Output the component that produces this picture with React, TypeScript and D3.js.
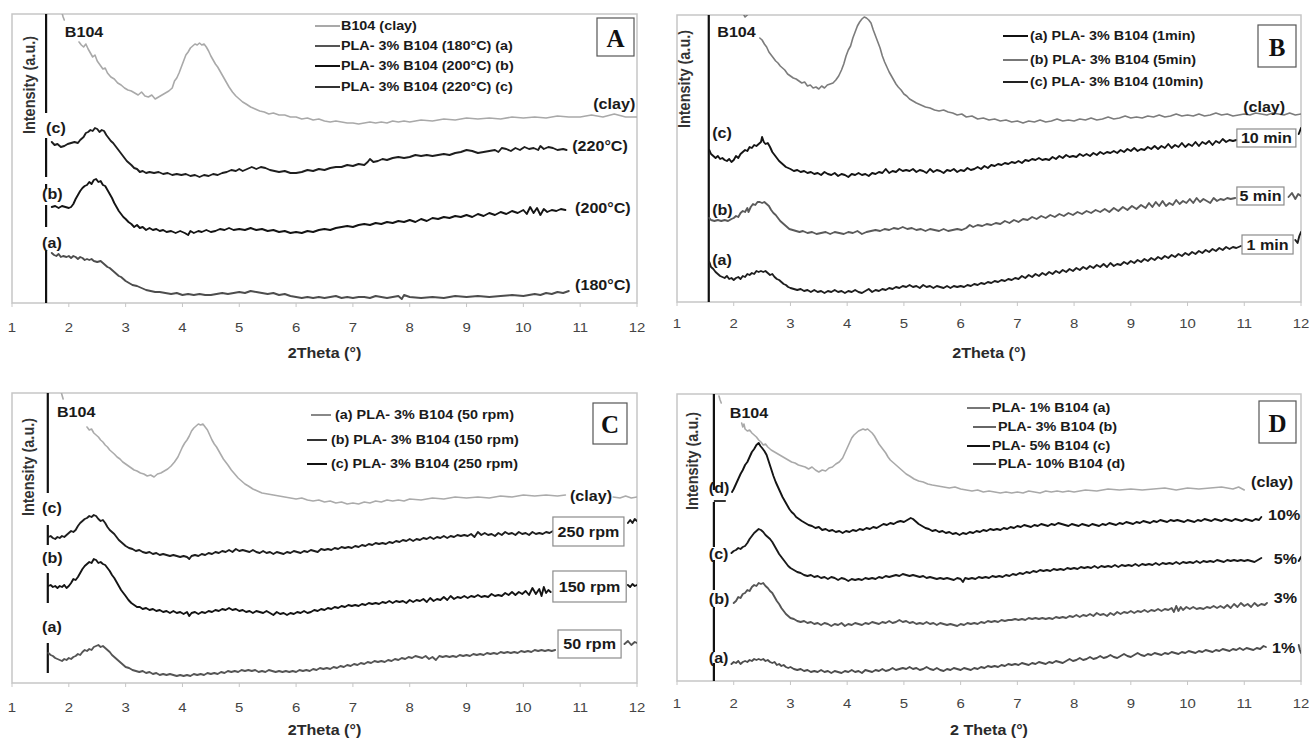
import React from "react";
import * as d3 from "d3";

type P = [number, number] | null;

const X_TICKS = [1, 2, 3, 4, 5, 6, 7, 8, 9, 10, 11, 12];
const FONT = "'Liberation Sans', Arial, Helvetica, sans-serif";
const SERIF = "'Liberation Serif', 'Times New Roman', serif";
const SX = 1.15; // horizontal stretch of the lettering
const LW = 1.9; // stroke width of the composite patterns
const LW_CLAY = 1.6; // stroke width of the pure clay patterns

// ---------- Panel A: processing temperature ----------
const aClay: P[] = [
  [1.87, 292], [1.9, 286], [1.92, 283], null,
  [2.18, 261], [2.22, 258], [2.26, 256], [2.3, 259], [2.34, 254], [2.38, 250], [2.42, 246], [2.46, 248], [2.5, 242], [2.55, 238], [2.6, 234], [2.64, 235], [2.68, 230], [2.74, 226], [2.8, 224], [2.86, 220], [2.92, 218], [2.98, 215], [3.04, 213], [3.1, 212], [3.16, 210], [3.22, 208], [3.28, 211], [3.34, 207], [3.4, 206], [3.46, 208], [3.52, 204], [3.58, 206], [3.64, 208], [3.7, 210], [3.76, 212], [3.82, 215], [3.86, 222], [3.9, 225], [3.94, 230], [3.98, 236], [4.02, 242], [4.06, 248], [4.1, 251], [4.14, 255], [4.18, 257], [4.22, 259], [4.26, 258], [4.3, 260], [4.34, 258], [4.38, 259], [4.42, 256], [4.46, 252], [4.5, 247], [4.54, 243], [4.58, 239], [4.62, 236], [4.66, 232], [4.7, 228], [4.74, 224], [4.78, 220], [4.82, 216], [4.88, 211], [4.94, 207], [5.0, 204], [5.06, 201], [5.12, 199], [5.2, 196], [5.28, 194], [5.36, 192], [5.44, 191], [5.52, 189], [5.6, 190], [5.7, 188], [5.8, 188], [5.9, 186], [6.0, 186], [6.1, 184], [6.2, 185], [6.3, 183], [6.4, 184], [6.5, 182], [6.6, 181], [6.7, 182], [6.8, 181], [6.9, 180], [7.0, 180], [7.1, 179], [7.2, 180], [7.3, 181], [7.4, 180], [7.5, 181], [7.6, 180], [7.7, 182], [7.8, 181], [7.9, 182], [8.0, 181], [8.2, 183], [8.4, 182], [8.6, 184], [8.8, 183], [9.0, 185], [9.2, 184], [9.4, 185], [9.6, 184], [9.8, 186], [10.0, 185], [10.2, 186], [10.4, 185], [10.6, 187], [10.8, 186], [11.0, 186], [11.2, 188], [11.4, 186], [11.6, 189], [11.8, 186], [12.0, 186],
];
const a220: P[] = [
  [1.7, 161], [1.75, 158], [1.8, 159], [1.86, 156], [1.92, 157], [1.98, 159], [2.04, 160], [2.1, 161], [2.16, 160], [2.2, 163], [2.26, 166], [2.3, 170], [2.34, 171], [2.38, 173], [2.42, 172], [2.46, 175], [2.5, 174], [2.54, 171], [2.58, 173], [2.62, 172], [2.66, 168], [2.7, 165], [2.74, 162], [2.78, 160], [2.82, 157], [2.86, 154], [2.9, 151], [2.94, 148], [2.98, 145], [3.02, 142], [3.06, 140], [3.1, 138], [3.15, 135], [3.2, 134], [3.25, 131], [3.3, 132], [3.36, 130], [3.42, 131], [3.5, 130], [3.58, 131], [3.66, 129], [3.74, 130], [3.82, 128], [3.9, 129], [3.98, 128], [4.06, 129], [4.14, 127], [4.22, 128], [4.3, 126], [4.38, 128], [4.46, 127], [4.54, 129], [4.62, 128], [4.7, 130], [4.78, 131], [4.86, 133], [4.94, 132], [5.0, 134], [5.06, 132], [5.14, 134], [5.22, 136], [5.3, 134], [5.38, 136], [5.46, 135], [5.54, 133], [5.62, 132], [5.7, 131], [5.8, 132], [5.9, 130], [6.0, 130], [6.1, 131], [6.2, 133], [6.3, 132], [6.4, 134], [6.5, 133], [6.6, 135], [6.7, 136], [6.8, 136], [6.9, 138], [7.0, 137], [7.1, 139], [7.2, 138], [7.26, 141], [7.3, 144], [7.36, 141], [7.44, 142], [7.52, 144], [7.6, 143], [7.7, 145], [7.8, 146], [7.9, 145], [8.0, 146], [8.1, 148], [8.2, 147], [8.3, 148], [8.4, 147], [8.5, 148], [8.6, 149], [8.7, 148], [8.8, 150], [8.9, 151], [9.0, 153], [9.1, 152], [9.2, 150], [9.3, 151], [9.4, 152], [9.5, 153], [9.56, 151], [9.62, 155], [9.7, 154], [9.78, 152], [9.86, 155], [9.94, 153], [10.02, 156], [10.1, 154], [10.18, 155], [10.26, 153], [10.3, 157], [10.36, 154], [10.44, 156], [10.52, 155], [10.6, 153], [10.7, 154], [10.76, 153],
];
const a200: P[] = [
  [1.7, 96], [1.76, 97], [1.82, 95], [1.88, 97], [1.94, 96], [2.0, 95], [2.04, 96], [2.08, 99], [2.12, 104], [2.16, 108], [2.2, 112], [2.24, 115], [2.28, 117], [2.32, 118], [2.36, 121], [2.4, 119], [2.44, 123], [2.48, 124], [2.52, 121], [2.56, 122], [2.6, 118], [2.64, 117], [2.68, 113], [2.72, 109], [2.76, 105], [2.8, 100], [2.84, 96], [2.88, 92], [2.92, 89], [2.96, 86], [3.0, 84], [3.05, 81], [3.1, 79], [3.15, 76], [3.2, 78], [3.25, 75], [3.3, 76], [3.36, 73], [3.42, 75], [3.48, 73], [3.54, 74], [3.6, 72], [3.66, 73], [3.72, 71], [3.8, 72], [3.88, 70], [3.96, 72], [4.04, 70], [4.1, 68], [4.14, 72], [4.2, 70], [4.28, 72], [4.34, 71], [4.42, 73], [4.5, 71], [4.58, 72], [4.66, 74], [4.74, 73], [4.82, 75], [4.9, 73], [5.0, 74], [5.1, 73], [5.2, 75], [5.3, 73], [5.4, 74], [5.5, 72], [5.6, 73], [5.7, 71], [5.8, 72], [5.9, 70], [6.0, 71], [6.1, 70], [6.2, 72], [6.3, 71], [6.4, 73], [6.5, 74], [6.6, 73], [6.7, 75], [6.8, 76], [6.9, 77], [7.0, 76], [7.1, 78], [7.2, 79], [7.3, 78], [7.4, 80], [7.5, 79], [7.6, 81], [7.7, 80], [7.8, 82], [7.9, 81], [8.0, 83], [8.1, 81], [8.2, 84], [8.3, 82], [8.4, 85], [8.5, 84], [8.6, 86], [8.7, 85], [8.8, 87], [8.9, 86], [9.0, 88], [9.1, 86], [9.2, 89], [9.3, 87], [9.4, 90], [9.5, 88], [9.6, 91], [9.7, 89], [9.8, 92], [9.9, 90], [10.0, 93], [10.06, 89], [10.12, 96], [10.18, 90], [10.24, 95], [10.3, 88], [10.36, 94], [10.42, 91], [10.5, 93], [10.58, 92], [10.66, 94], [10.74, 93],
];
const a180: P[] = [
  [1.7, 50], [1.74, 48], [1.78, 47], [1.82, 49], [1.86, 46], [1.9, 47], [1.96, 46], [2.0, 47], [2.04, 45], [2.08, 47], [2.12, 46], [2.16, 44], [2.2, 46], [2.24, 45], [2.28, 43], [2.32, 44], [2.36, 43], [2.4, 44], [2.44, 42], [2.5, 41], [2.56, 42], [2.6, 40], [2.64, 38], [2.68, 36], [2.72, 35], [2.76, 33], [2.8, 31], [2.84, 29], [2.88, 27], [2.92, 26], [2.96, 24], [3.0, 22], [3.06, 20], [3.12, 18], [3.2, 17], [3.28, 15], [3.36, 13], [3.44, 12], [3.52, 11], [3.6, 11], [3.7, 10], [3.8, 9], [3.9, 10], [4.0, 8], [4.1, 9], [4.2, 8], [4.3, 9], [4.4, 8], [4.5, 8], [4.6, 9], [4.7, 10], [4.8, 9], [4.9, 10], [5.0, 11], [5.1, 10], [5.2, 12], [5.3, 11], [5.4, 10], [5.5, 9], [5.6, 10], [5.7, 8], [5.8, 9], [5.9, 7], [6.0, 6], [6.1, 5], [6.2, 6], [6.3, 5], [6.4, 6], [6.5, 5], [6.6, 6], [6.7, 7], [6.8, 5], [6.9, 6], [7.0, 5], [7.1, 6], [7.2, 6], [7.3, 5], [7.4, 7], [7.5, 6], [7.6, 5], [7.7, 6], [7.8, 7], [7.86, 4], [7.9, 8], [8.0, 6], [8.2, 5], [8.4, 6], [8.6, 5], [8.8, 7], [9.0, 6], [9.2, 7], [9.4, 6], [9.6, 7], [9.8, 8], [10.0, 7], [10.2, 9], [10.3, 8], [10.4, 10], [10.5, 9], [10.6, 11], [10.7, 10], [10.8, 12],
];

// ---------- Panel B: mixing time ----------
const bClay: P[] = [
  [2.16, 289], [2.2, 285], [2.24, 287], null,
  [2.46, 264], [2.5, 262], [2.54, 258], [2.58, 255], [2.62, 250], [2.66, 247], [2.7, 244], [2.74, 241], [2.78, 239], [2.82, 236], [2.86, 234], [2.9, 232], [2.95, 228], [3.0, 226], [3.05, 224], [3.1, 223], [3.15, 221], [3.2, 219], [3.25, 220], [3.3, 216], [3.35, 217], [3.4, 214], [3.45, 215], [3.5, 213], [3.55, 216], [3.6, 214], [3.65, 217], [3.7, 218], [3.75, 219], [3.8, 222], [3.85, 226], [3.9, 232], [3.94, 238], [3.98, 246], [4.02, 252], [4.06, 256], [4.1, 264], [4.14, 270], [4.18, 276], [4.22, 280], [4.26, 283], [4.3, 285], [4.34, 284], [4.38, 282], [4.42, 279], [4.46, 272], [4.5, 266], [4.54, 260], [4.58, 254], [4.62, 246], [4.66, 240], [4.7, 235], [4.74, 230], [4.78, 226], [4.82, 222], [4.86, 218], [4.9, 215], [4.95, 212], [5.0, 208], [5.05, 206], [5.1, 203], [5.16, 201], [5.22, 199], [5.3, 197], [5.38, 195], [5.46, 194], [5.54, 192], [5.62, 191], [5.7, 192], [5.78, 190], [5.86, 189], [5.94, 187], [6.02, 188], [6.1, 185], [6.2, 186], [6.3, 183], [6.4, 184], [6.5, 182], [6.6, 183], [6.7, 181], [6.8, 182], [6.9, 180], [7.0, 181], [7.1, 179], [7.2, 181], [7.3, 180], [7.4, 182], [7.5, 180], [7.6, 181], [7.7, 183], [7.8, 181], [7.9, 182], [8.0, 181], [8.1, 183], [8.2, 182], [8.3, 184], [8.4, 182], [8.5, 183], [8.6, 185], [8.7, 183], [8.8, 184], [8.9, 186], [9.0, 184], [9.1, 185], [9.2, 184], [9.3, 186], [9.4, 185], [9.5, 187], [9.6, 185], [9.7, 186], [9.8, 188], [9.9, 186], [10.0, 187], [10.1, 186], [10.2, 188], [10.3, 186], [10.4, 187], [10.5, 189], [10.6, 187], [10.7, 188], [10.8, 186], [10.9, 187], [11.0, 188], [11.1, 187], [11.2, 189], [11.3, 188], [11.4, 187], [11.5, 189], [11.6, 188], [11.7, 187], [11.8, 189], [11.9, 187], [12.0, 188],
];
const b10: P[] = [
  [1.57, 152], [1.6, 148], [1.64, 146], [1.68, 144], [1.72, 146], [1.76, 143], [1.8, 144], [1.84, 142], [1.88, 141], [1.92, 143], [1.96, 140], [2.0, 142], [2.04, 146], [2.08, 144], [2.12, 148], [2.16, 150], [2.2, 152], [2.24, 151], [2.28, 155], [2.32, 154], [2.36, 157], [2.4, 156], [2.44, 158], [2.48, 160], [2.5, 165], [2.53, 160], [2.56, 158], [2.6, 159], [2.64, 155], [2.68, 150], [2.72, 147], [2.76, 144], [2.8, 141], [2.84, 139], [2.88, 137], [2.92, 135], [2.96, 134], [3.0, 133], [3.06, 131], [3.12, 132], [3.18, 130], [3.24, 131], [3.3, 129], [3.36, 130], [3.42, 128], [3.48, 129], [3.54, 127], [3.6, 130], [3.66, 128], [3.72, 127], [3.78, 129], [3.84, 126], [3.9, 128], [3.96, 127], [4.02, 125], [4.08, 128], [4.14, 127], [4.2, 129], [4.26, 127], [4.32, 128], [4.38, 126], [4.44, 129], [4.5, 128], [4.56, 130], [4.62, 129], [4.68, 133], [4.74, 129], [4.8, 131], [4.86, 130], [4.92, 133], [4.98, 131], [5.04, 132], [5.1, 131], [5.16, 133], [5.22, 130], [5.28, 132], [5.34, 131], [5.4, 129], [5.46, 133], [5.52, 130], [5.58, 132], [5.64, 131], [5.7, 129], [5.76, 132], [5.82, 131], [5.88, 133], [5.94, 130], [6.0, 132], [6.06, 131], [6.12, 134], [6.18, 132], [6.24, 133], [6.3, 135], [6.36, 133], [6.42, 136], [6.48, 134], [6.54, 137], [6.6, 136], [6.66, 138], [6.72, 137], [6.78, 139], [6.84, 138], [6.9, 140], [6.96, 139], [7.02, 141], [7.08, 139], [7.14, 142], [7.2, 141], [7.26, 143], [7.32, 142], [7.38, 144], [7.44, 142], [7.5, 143], [7.56, 142], [7.62, 145], [7.68, 143], [7.74, 146], [7.8, 144], [7.86, 147], [7.92, 145], [7.98, 146], [8.04, 145], [8.1, 148], [8.16, 146], [8.22, 148], [8.28, 146], [8.34, 149], [8.4, 147], [8.46, 150], [8.52, 148], [8.58, 150], [8.64, 149], [8.7, 151], [8.76, 149], [8.82, 152], [8.88, 150], [8.94, 153], [9.0, 151], [9.06, 154], [9.12, 151], [9.18, 153], [9.24, 152], [9.3, 155], [9.36, 153], [9.42, 156], [9.48, 153], [9.54, 156], [9.6, 154], [9.66, 158], [9.72, 154], [9.78, 157], [9.84, 155], [9.9, 159], [9.96, 155], [10.02, 158], [10.08, 156], [10.14, 160], [10.2, 156], [10.26, 160], [10.32, 158], [10.38, 161], [10.44, 157], [10.5, 161], [10.56, 159], [10.62, 163], [10.68, 160], [10.74, 162], [10.8, 161], [10.86, 162], null,
  [11.96, 168], [12.0, 174],
];
const b5: P[] = [
  [1.57, 84], [1.6, 82], [1.66, 81], [1.72, 82], [1.78, 81], [1.84, 82], [1.9, 81], [1.96, 83], [2.0, 84], [2.04, 86], [2.08, 85], [2.12, 89], [2.16, 91], [2.2, 90], [2.24, 94], [2.26, 90], [2.3, 95], [2.34, 98], [2.38, 97], [2.42, 100], [2.46, 100], [2.5, 99], [2.54, 100], [2.58, 98], [2.62, 96], [2.66, 92], [2.7, 89], [2.74, 87], [2.78, 84], [2.82, 81], [2.86, 79], [2.9, 77], [2.94, 75], [2.98, 73], [3.04, 72], [3.1, 71], [3.16, 70], [3.22, 71], [3.3, 69], [3.38, 70], [3.46, 68], [3.54, 69], [3.62, 70], [3.7, 68], [3.78, 70], [3.86, 69], [3.94, 68], [4.02, 70], [4.1, 69], [4.18, 71], [4.26, 68], [4.34, 70], [4.42, 71], [4.5, 72], [4.58, 71], [4.66, 73], [4.74, 72], [4.82, 74], [4.9, 73], [4.98, 75], [5.06, 73], [5.14, 74], [5.22, 72], [5.3, 73], [5.38, 71], [5.46, 73], [5.54, 72], [5.62, 71], [5.7, 73], [5.78, 71], [5.86, 72], [5.94, 73], [6.02, 72], [6.1, 74], [6.16, 77], [6.22, 75], [6.3, 77], [6.38, 76], [6.46, 78], [6.54, 77], [6.62, 79], [6.7, 78], [6.78, 81], [6.86, 79], [6.94, 82], [7.02, 80], [7.1, 83], [7.18, 82], [7.26, 85], [7.34, 83], [7.42, 86], [7.5, 84], [7.58, 87], [7.66, 85], [7.74, 88], [7.82, 86], [7.9, 89], [7.98, 87], [8.06, 90], [8.14, 88], [8.22, 91], [8.3, 89], [8.38, 92], [8.46, 90], [8.54, 93], [8.62, 90], [8.7, 94], [8.78, 91], [8.86, 95], [8.94, 92], [9.02, 96], [9.1, 93], [9.18, 97], [9.26, 94], [9.32, 99], [9.38, 95], [9.44, 100], [9.5, 96], [9.56, 101], [9.62, 96], [9.68, 99], [9.74, 97], [9.8, 102], [9.86, 98], [9.92, 101], [9.98, 99], [10.04, 103], [10.1, 99], [10.16, 104], [10.22, 100], [10.28, 103], [10.34, 101], [10.4, 99], [10.46, 104], [10.52, 101], [10.58, 103], [10.64, 102], [10.7, 104], [10.76, 103], [10.84, 104], null,
  [11.78, 105], [11.84, 109], [11.9, 103], [11.95, 108], [12.0, 106],
];
const b1: P[] = [
  [1.57, 40], [1.6, 35], [1.64, 33], [1.68, 30], [1.72, 28], [1.76, 26], [1.8, 25], [1.84, 24], [1.88, 26], [1.92, 23], [1.96, 24], [2.0, 22], [2.04, 24], [2.08, 25], [2.12, 23], [2.16, 26], [2.2, 25], [2.24, 28], [2.28, 27], [2.32, 29], [2.36, 28], [2.4, 31], [2.44, 30], [2.48, 31], [2.52, 30], [2.56, 31], [2.6, 29], [2.64, 27], [2.68, 28], [2.72, 25], [2.76, 23], [2.8, 22], [2.84, 20], [2.88, 18], [2.92, 17], [2.96, 15], [3.0, 14], [3.06, 13], [3.12, 12], [3.18, 13], [3.24, 11], [3.3, 12], [3.36, 10], [3.42, 12], [3.48, 10], [3.54, 11], [3.6, 9], [3.66, 11], [3.72, 10], [3.78, 12], [3.84, 10], [3.9, 11], [3.96, 9], [4.02, 11], [4.08, 10], [4.14, 12], [4.2, 10], [4.26, 9], [4.32, 11], [4.38, 13], [4.44, 10], [4.5, 12], [4.56, 11], [4.62, 13], [4.68, 12], [4.74, 14], [4.8, 13], [4.86, 15], [4.92, 14], [4.98, 16], [5.04, 15], [5.1, 17], [5.16, 15], [5.22, 16], [5.28, 14], [5.34, 17], [5.4, 15], [5.46, 16], [5.52, 14], [5.58, 16], [5.64, 15], [5.7, 14], [5.76, 16], [5.82, 14], [5.88, 16], [5.94, 15], [6.0, 16], [6.06, 15], [6.12, 17], [6.18, 16], [6.24, 18], [6.3, 17], [6.36, 19], [6.42, 18], [6.48, 20], [6.54, 19], [6.6, 21], [6.66, 20], [6.72, 22], [6.78, 21], [6.84, 23], [6.9, 22], [6.96, 24], [7.02, 23], [7.08, 26], [7.14, 24], [7.2, 27], [7.26, 25], [7.32, 28], [7.38, 26], [7.44, 29], [7.5, 27], [7.56, 30], [7.62, 28], [7.68, 31], [7.74, 29], [7.8, 32], [7.86, 30], [7.92, 33], [7.98, 31], [8.04, 34], [8.1, 32], [8.16, 35], [8.22, 33], [8.28, 36], [8.34, 34], [8.4, 37], [8.46, 35], [8.52, 38], [8.58, 35], [8.64, 39], [8.7, 36], [8.76, 38], [8.82, 37], [8.88, 40], [8.94, 38], [9.0, 41], [9.06, 39], [9.12, 42], [9.18, 40], [9.24, 43], [9.3, 41], [9.36, 44], [9.42, 42], [9.48, 45], [9.54, 43], [9.6, 46], [9.66, 44], [9.72, 47], [9.78, 45], [9.84, 48], [9.9, 46], [9.96, 49], [10.02, 47], [10.08, 50], [10.14, 48], [10.2, 51], [10.26, 49], [10.32, 52], [10.38, 50], [10.44, 53], [10.5, 51], [10.56, 54], [10.62, 52], [10.68, 55], [10.74, 53], [10.8, 55], [10.86, 54], [10.94, 56], null,
  [11.9, 62], [11.94, 59], [11.97, 66], [12.0, 70],
];

// ---------- Panel C: screw speed ----------
const cClay: P[] = [
  [1.86, 292], [1.88, 288], [1.9, 284], null,
  [2.32, 256], [2.36, 253], [2.4, 254], [2.44, 250], [2.48, 248], [2.52, 246], [2.56, 243], [2.6, 241], [2.64, 238], [2.68, 236], [2.72, 233], [2.76, 231], [2.8, 229], [2.85, 226], [2.9, 224], [2.95, 221], [3.0, 219], [3.05, 217], [3.1, 215], [3.15, 213], [3.2, 212], [3.26, 210], [3.32, 209], [3.38, 207], [3.44, 208], [3.5, 206], [3.56, 209], [3.62, 210], [3.68, 212], [3.74, 214], [3.8, 217], [3.86, 221], [3.92, 226], [3.96, 231], [4.0, 236], [4.04, 240], [4.08, 243], [4.12, 247], [4.16, 252], [4.2, 255], [4.24, 257], [4.28, 259], [4.32, 258], [4.36, 259], [4.4, 256], [4.44, 253], [4.48, 248], [4.52, 243], [4.56, 239], [4.6, 236], [4.64, 232], [4.68, 228], [4.72, 224], [4.76, 221], [4.8, 218], [4.86, 213], [4.92, 209], [4.98, 205], [5.04, 202], [5.1, 199], [5.16, 197], [5.24, 194], [5.32, 192], [5.4, 190], [5.5, 189], [5.6, 188], [5.7, 187], [5.8, 186], [5.9, 185], [6.0, 184], [6.1, 185], [6.2, 183], [6.3, 182], [6.4, 183], [6.5, 181], [6.6, 182], [6.7, 180], [6.8, 181], [6.9, 179], [7.0, 180], [7.1, 179], [7.2, 181], [7.3, 180], [7.4, 182], [7.5, 181], [7.6, 183], [7.7, 182], [7.8, 183], [7.9, 182], [8.0, 184], [8.2, 183], [8.4, 185], [8.6, 184], [8.8, 186], [9.0, 185], [9.2, 186], [9.4, 185], [9.6, 187], [9.8, 186], [10.0, 188], [10.2, 187], [10.4, 188], [10.6, 187], [10.74, 188], null,
  [11.58, 186], [11.7, 185], [11.8, 187], [11.9, 185], [12.0, 186],
];
const c250: P[] = [
  [1.64, 146], [1.68, 147], [1.72, 145], [1.76, 144], [1.8, 146], [1.84, 145], [1.88, 147], [1.92, 146], [1.96, 148], [2.0, 150], [2.04, 152], [2.08, 151], [2.12, 153], [2.16, 157], [2.2, 160], [2.24, 162], [2.28, 164], [2.32, 165], [2.36, 167], [2.4, 166], [2.44, 168], [2.48, 167], [2.52, 164], [2.56, 162], [2.6, 163], [2.64, 160], [2.68, 156], [2.72, 153], [2.76, 151], [2.8, 149], [2.84, 146], [2.88, 143], [2.92, 141], [2.96, 139], [3.0, 137], [3.06, 135], [3.12, 134], [3.18, 132], [3.24, 133], [3.3, 131], [3.36, 130], [3.42, 131], [3.48, 129], [3.54, 130], [3.6, 128], [3.66, 129], [3.72, 128], [3.78, 127], [3.84, 128], [3.9, 127], [3.96, 126], [4.02, 127], [4.08, 126], [4.12, 124], [4.16, 127], [4.22, 128], [4.28, 127], [4.34, 129], [4.4, 128], [4.46, 130], [4.52, 129], [4.58, 131], [4.64, 130], [4.7, 132], [4.76, 131], [4.82, 133], [4.88, 131], [4.94, 134], [5.0, 132], [5.06, 133], [5.12, 132], [5.18, 131], [5.24, 133], [5.3, 131], [5.36, 130], [5.42, 132], [5.48, 130], [5.54, 131], [5.6, 129], [5.66, 131], [5.72, 130], [5.78, 129], [5.84, 131], [5.9, 130], [5.96, 132], [6.02, 131], [6.08, 130], [6.14, 132], [6.2, 131], [6.26, 133], [6.32, 132], [6.38, 131], [6.44, 134], [6.5, 133], [6.56, 134], [6.62, 133], [6.68, 135], [6.74, 134], [6.8, 136], [6.86, 135], [6.92, 136], [6.98, 135], [7.04, 137], [7.1, 136], [7.16, 138], [7.22, 137], [7.28, 139], [7.34, 138], [7.4, 140], [7.46, 139], [7.52, 140], [7.58, 139], [7.64, 141], [7.7, 140], [7.76, 142], [7.82, 141], [7.88, 143], [7.94, 142], [8.0, 144], [8.06, 142], [8.12, 144], [8.18, 143], [8.24, 145], [8.3, 144], [8.36, 146], [8.42, 144], [8.48, 146], [8.54, 145], [8.6, 147], [8.66, 145], [8.72, 147], [8.78, 146], [8.84, 148], [8.9, 147], [8.96, 148], [9.02, 147], [9.08, 149], [9.14, 146], [9.2, 151], [9.26, 148], [9.32, 150], [9.38, 148], [9.44, 149], [9.5, 147], [9.56, 150], [9.62, 148], [9.68, 151], [9.74, 149], [9.8, 150], [9.86, 148], [9.92, 151], [9.98, 149], [10.04, 150], [10.1, 148], [10.16, 151], [10.22, 149], [10.28, 150], [10.34, 149], [10.4, 151], [10.46, 150], [10.52, 152], null,
  [11.84, 160], [11.88, 163], [11.92, 160], [11.96, 164], [12.0, 162],
];
const c150: P[] = [
  [1.64, 97], [1.68, 98], [1.72, 96], [1.76, 97], [1.8, 95], [1.84, 97], [1.88, 96], [1.92, 98], [1.96, 95], [2.0, 97], [2.04, 100], [2.08, 104], [2.12, 103], [2.16, 106], [2.2, 110], [2.24, 114], [2.28, 117], [2.32, 119], [2.36, 121], [2.4, 120], [2.44, 124], [2.48, 123], [2.52, 120], [2.56, 121], [2.6, 119], [2.64, 118], [2.68, 115], [2.72, 112], [2.76, 108], [2.8, 105], [2.84, 101], [2.88, 97], [2.92, 93], [2.96, 90], [3.0, 87], [3.05, 83], [3.1, 80], [3.15, 78], [3.2, 76], [3.25, 76], [3.3, 74], [3.36, 75], [3.42, 73], [3.48, 74], [3.54, 72], [3.6, 73], [3.66, 71], [3.72, 72], [3.78, 70], [3.84, 72], [3.9, 70], [3.96, 71], [4.02, 69], [4.08, 71], [4.12, 67], [4.16, 70], [4.22, 71], [4.28, 69], [4.34, 71], [4.4, 70], [4.46, 72], [4.52, 71], [4.58, 73], [4.64, 72], [4.7, 74], [4.76, 73], [4.82, 75], [4.88, 73], [4.94, 74], [5.0, 72], [5.06, 73], [5.12, 71], [5.18, 72], [5.24, 70], [5.3, 72], [5.36, 71], [5.42, 70], [5.48, 72], [5.54, 70], [5.6, 68], [5.66, 71], [5.72, 69], [5.78, 70], [5.84, 68], [5.9, 70], [5.96, 69], [6.02, 71], [6.08, 70], [6.14, 72], [6.2, 70], [6.26, 71], [6.32, 73], [6.38, 72], [6.44, 74], [6.5, 73], [6.56, 75], [6.62, 74], [6.68, 76], [6.74, 75], [6.8, 77], [6.86, 76], [6.92, 78], [6.98, 77], [7.04, 78], [7.1, 77], [7.16, 79], [7.22, 78], [7.28, 80], [7.34, 79], [7.4, 80], [7.46, 79], [7.52, 81], [7.58, 80], [7.64, 82], [7.7, 80], [7.76, 82], [7.82, 81], [7.88, 82], [7.94, 80], [8.0, 83], [8.06, 81], [8.12, 83], [8.18, 82], [8.24, 84], [8.3, 81], [8.36, 85], [8.42, 82], [8.48, 84], [8.54, 83], [8.6, 86], [8.66, 83], [8.72, 87], [8.78, 84], [8.84, 86], [8.9, 85], [8.96, 87], [9.02, 85], [9.08, 87], [9.14, 86], [9.2, 88], [9.26, 86], [9.32, 87], [9.38, 86], [9.44, 89], [9.5, 87], [9.56, 88], [9.62, 87], [9.68, 90], [9.74, 88], [9.8, 91], [9.86, 88], [9.92, 91], [9.98, 89], [10.04, 92], [10.1, 88], [10.16, 95], [10.22, 89], [10.28, 94], [10.32, 87], [10.36, 96], [10.4, 90], [10.44, 93], [10.48, 91], null,
  [11.84, 98], [11.88, 96], [11.92, 99], [11.96, 97], [12.0, 98],
];
const c50: P[] = [
  [1.64, 30], [1.68, 28], [1.72, 27], [1.76, 25], [1.8, 24], [1.84, 23], [1.88, 22], [1.92, 24], [1.96, 23], [2.0, 25], [2.04, 24], [2.08, 26], [2.12, 27], [2.16, 29], [2.2, 28], [2.24, 31], [2.28, 33], [2.32, 32], [2.36, 34], [2.4, 33], [2.44, 36], [2.48, 37], [2.52, 38], [2.56, 36], [2.6, 37], [2.64, 35], [2.68, 33], [2.72, 31], [2.76, 28], [2.8, 26], [2.84, 24], [2.88, 22], [2.92, 20], [2.96, 18], [3.0, 16], [3.06, 15], [3.12, 13], [3.18, 12], [3.24, 11], [3.3, 12], [3.36, 10], [3.42, 11], [3.48, 9], [3.54, 10], [3.6, 8], [3.66, 9], [3.72, 8], [3.78, 9], [3.84, 8], [3.9, 7], [3.96, 8], [4.02, 7], [4.08, 8], [4.14, 7], [4.2, 9], [4.26, 8], [4.32, 9], [4.38, 8], [4.44, 10], [4.5, 9], [4.56, 10], [4.62, 9], [4.68, 11], [4.74, 10], [4.8, 12], [4.86, 11], [4.92, 12], [4.98, 11], [5.04, 13], [5.1, 12], [5.16, 13], [5.22, 12], [5.28, 13], [5.34, 11], [5.4, 12], [5.46, 11], [5.52, 13], [5.58, 12], [5.64, 11], [5.7, 12], [5.76, 11], [5.82, 12], [5.88, 11], [5.94, 12], [6.0, 11], [6.06, 13], [6.12, 12], [6.18, 13], [6.24, 12], [6.3, 14], [6.36, 13], [6.42, 15], [6.48, 14], [6.54, 15], [6.6, 14], [6.66, 16], [6.72, 15], [6.78, 17], [6.84, 16], [6.9, 18], [6.96, 17], [7.02, 19], [7.08, 18], [7.14, 20], [7.2, 19], [7.26, 21], [7.32, 20], [7.38, 22], [7.44, 21], [7.5, 22], [7.56, 21], [7.62, 23], [7.68, 22], [7.74, 24], [7.8, 23], [7.86, 25], [7.92, 24], [7.98, 26], [8.04, 25], [8.1, 27], [8.16, 26], [8.22, 25], [8.28, 27], [8.34, 24], [8.4, 26], [8.46, 23], [8.52, 27], [8.58, 26], [8.64, 27], [8.7, 26], [8.76, 27], [8.82, 26], [8.88, 28], [8.94, 27], [9.0, 28], [9.06, 27], [9.12, 29], [9.18, 28], [9.24, 29], [9.3, 28], [9.36, 30], [9.42, 29], [9.48, 30], [9.54, 29], [9.6, 31], [9.66, 30], [9.72, 31], [9.78, 30], [9.84, 31], [9.9, 30], [9.96, 32], [10.02, 31], [10.08, 32], [10.14, 31], [10.2, 33], [10.26, 32], [10.32, 33], [10.38, 32], [10.44, 33], [10.5, 32], [10.56, 33], null,
  [11.78, 39], [11.84, 42], [11.9, 38], [11.96, 41], [12.0, 40],
];

// ---------- Panel D: clay loading ----------
const dClay: P[] = [
  [1.74, 285], [1.76, 281], [1.78, 278], null,
  [2.14, 258], [2.16, 254], [2.18, 257], [2.2, 252], [2.24, 250], [2.28, 251], [2.32, 248], [2.36, 246], [2.4, 244], [2.44, 241], [2.48, 239], [2.52, 236], [2.56, 237], [2.6, 234], [2.66, 231], [2.72, 229], [2.78, 227], [2.84, 225], [2.9, 223], [2.96, 221], [3.02, 219], [3.08, 218], [3.14, 216], [3.2, 215], [3.26, 214], [3.32, 212], [3.38, 214], [3.44, 211], [3.5, 209], [3.56, 211], [3.62, 210], [3.68, 213], [3.74, 214], [3.8, 217], [3.86, 219], [3.92, 223], [3.96, 228], [4.0, 233], [4.04, 238], [4.08, 243], [4.12, 246], [4.16, 248], [4.2, 250], [4.24, 251], [4.28, 252], [4.32, 251], [4.36, 252], [4.4, 250], [4.44, 248], [4.48, 245], [4.52, 241], [4.56, 237], [4.6, 234], [4.64, 231], [4.68, 228], [4.72, 224], [4.76, 221], [4.8, 219], [4.86, 216], [4.92, 213], [4.98, 210], [5.04, 207], [5.1, 205], [5.18, 202], [5.26, 200], [5.34, 199], [5.42, 197], [5.5, 196], [5.6, 195], [5.7, 194], [5.8, 193], [5.9, 194], [6.0, 192], [6.1, 191], [6.2, 190], [6.3, 191], [6.4, 189], [6.5, 190], [6.6, 189], [6.7, 188], [6.8, 189], [6.9, 188], [7.0, 189], [7.1, 188], [7.2, 190], [7.3, 189], [7.4, 188], [7.5, 190], [7.6, 189], [7.7, 190], [7.8, 189], [7.9, 190], [8.0, 189], [8.2, 191], [8.4, 190], [8.6, 192], [8.8, 191], [9.0, 192], [9.2, 191], [9.4, 192], [9.6, 193], [9.8, 191], [10.0, 193], [10.2, 192], [10.4, 193], [10.6, 194], [10.8, 192], [10.9, 194], [11.0, 191],
];
const d10: P[] = [
  [1.97, 189], [2.0, 192], [2.04, 197], [2.08, 202], [2.12, 207], [2.16, 211], [2.2, 216], [2.24, 219], [2.28, 224], [2.32, 229], [2.36, 232], [2.4, 236], [2.44, 238], [2.47, 235], [2.5, 233], [2.54, 230], [2.58, 226], [2.62, 219], [2.66, 212], [2.7, 205], [2.74, 199], [2.78, 194], [2.82, 189], [2.86, 184], [2.9, 180], [2.94, 176], [2.98, 172], [3.02, 169], [3.06, 167], [3.1, 164], [3.15, 162], [3.2, 160], [3.26, 158], [3.32, 156], [3.38, 155], [3.44, 153], [3.5, 154], [3.56, 151], [3.62, 152], [3.68, 150], [3.74, 151], [3.8, 149], [3.86, 150], [3.92, 148], [3.98, 150], [4.04, 149], [4.1, 151], [4.16, 150], [4.22, 152], [4.28, 151], [4.34, 153], [4.4, 152], [4.46, 154], [4.52, 153], [4.58, 155], [4.64, 157], [4.7, 156], [4.76, 158], [4.82, 157], [4.88, 159], [4.94, 160], [5.0, 159], [5.06, 161], [5.12, 163], [5.16, 162], [5.2, 160], [5.26, 157], [5.32, 155], [5.38, 153], [5.44, 152], [5.5, 150], [5.56, 151], [5.62, 149], [5.68, 150], [5.74, 148], [5.8, 149], [5.86, 147], [5.92, 148], [5.98, 146], [6.04, 148], [6.1, 147], [6.16, 149], [6.22, 148], [6.28, 150], [6.34, 149], [6.4, 151], [6.46, 150], [6.52, 152], [6.58, 151], [6.64, 152], [6.7, 151], [6.76, 153], [6.82, 152], [6.88, 154], [6.94, 153], [7.0, 155], [7.06, 154], [7.12, 156], [7.18, 155], [7.24, 154], [7.3, 156], [7.36, 155], [7.42, 157], [7.48, 156], [7.54, 155], [7.6, 157], [7.66, 156], [7.72, 158], [7.78, 157], [7.84, 156], [7.9, 155], [7.96, 157], [8.02, 156], [8.08, 155], [8.14, 157], [8.2, 156], [8.26, 155], [8.32, 157], [8.38, 156], [8.44, 155], [8.5, 157], [8.56, 156], [8.62, 158], [8.68, 157], [8.74, 156], [8.8, 158], [8.86, 157], [8.92, 159], [8.98, 158], [9.04, 157], [9.1, 159], [9.16, 158], [9.22, 160], [9.28, 159], [9.34, 158], [9.4, 160], [9.46, 159], [9.52, 161], [9.58, 160], [9.64, 159], [9.7, 161], [9.76, 160], [9.82, 161], [9.88, 160], [9.94, 159], [10.0, 161], [10.06, 160], [10.12, 159], [10.18, 161], [10.24, 160], [10.3, 162], [10.36, 161], [10.42, 160], [10.48, 162], [10.54, 161], [10.6, 160], [10.66, 162], [10.72, 161], [10.78, 160], [10.84, 162], [10.9, 161], [10.96, 160], [11.02, 162], [11.08, 161], [11.14, 160], [11.2, 162], [11.26, 161], [11.3, 164],
];
const d5: P[] = [
  [1.96, 128], [2.0, 130], [2.04, 131], [2.08, 133], [2.12, 132], [2.16, 134], [2.2, 135], [2.24, 138], [2.28, 142], [2.32, 145], [2.36, 148], [2.4, 150], [2.44, 152], [2.48, 151], [2.52, 149], [2.56, 146], [2.6, 144], [2.64, 142], [2.68, 139], [2.72, 135], [2.76, 131], [2.8, 127], [2.84, 124], [2.88, 121], [2.92, 118], [2.96, 115], [3.0, 113], [3.06, 111], [3.12, 109], [3.18, 108], [3.24, 106], [3.3, 105], [3.36, 106], [3.42, 104], [3.48, 105], [3.54, 103], [3.6, 104], [3.66, 102], [3.72, 104], [3.78, 103], [3.84, 101], [3.9, 103], [3.96, 102], [4.02, 100], [4.08, 102], [4.14, 101], [4.2, 102], [4.26, 101], [4.32, 103], [4.38, 102], [4.44, 103], [4.5, 102], [4.56, 104], [4.62, 103], [4.68, 105], [4.74, 104], [4.8, 105], [4.86, 106], [4.92, 105], [4.98, 107], [5.04, 106], [5.1, 105], [5.16, 106], [5.22, 105], [5.28, 104], [5.34, 105], [5.4, 103], [5.46, 104], [5.52, 103], [5.58, 102], [5.64, 103], [5.7, 102], [5.76, 103], [5.82, 102], [5.88, 101], [5.94, 103], [6.0, 102], [6.04, 99], [6.08, 103], [6.14, 102], [6.2, 103], [6.26, 102], [6.32, 104], [6.38, 103], [6.44, 104], [6.5, 103], [6.56, 105], [6.62, 104], [6.68, 105], [6.74, 104], [6.8, 106], [6.86, 105], [6.92, 107], [6.98, 106], [7.04, 108], [7.1, 107], [7.16, 109], [7.22, 108], [7.28, 110], [7.34, 109], [7.4, 111], [7.46, 110], [7.52, 111], [7.58, 110], [7.64, 112], [7.7, 111], [7.76, 112], [7.82, 111], [7.88, 113], [7.94, 112], [8.0, 113], [8.06, 112], [8.12, 114], [8.18, 113], [8.24, 114], [8.3, 113], [8.36, 115], [8.42, 113], [8.48, 115], [8.54, 114], [8.6, 115], [8.66, 114], [8.72, 116], [8.78, 114], [8.84, 116], [8.9, 115], [8.96, 116], [9.02, 115], [9.08, 117], [9.14, 115], [9.2, 117], [9.26, 116], [9.32, 117], [9.38, 116], [9.44, 118], [9.5, 116], [9.56, 118], [9.62, 117], [9.68, 118], [9.74, 117], [9.8, 119], [9.86, 117], [9.92, 119], [9.98, 118], [10.04, 119], [10.1, 118], [10.16, 120], [10.22, 118], [10.28, 120], [10.34, 119], [10.4, 120], [10.46, 119], [10.52, 121], [10.58, 120], [10.64, 119], [10.7, 121], [10.76, 120], [10.82, 121], [10.88, 120], [10.94, 121], [11.0, 120], [11.06, 121], [11.12, 120], [11.18, 119], [11.24, 121], [11.3, 123], null,
  [11.96, 120], [12.0, 124],
];
const d3pct: P[] = [
  [2.0, 78], [2.04, 80], [2.08, 84], [2.12, 83], [2.16, 87], [2.2, 88], [2.24, 91], [2.28, 90], [2.32, 94], [2.36, 96], [2.4, 95], [2.44, 98], [2.48, 97], [2.52, 98], [2.56, 95], [2.6, 93], [2.64, 90], [2.68, 88], [2.72, 84], [2.76, 80], [2.8, 77], [2.84, 73], [2.88, 70], [2.92, 67], [2.96, 65], [3.0, 63], [3.06, 62], [3.12, 60], [3.18, 59], [3.24, 60], [3.3, 58], [3.36, 59], [3.42, 57], [3.48, 58], [3.54, 56], [3.6, 58], [3.66, 57], [3.72, 55], [3.78, 57], [3.84, 56], [3.9, 58], [3.96, 55], [4.02, 57], [4.08, 56], [4.14, 58], [4.2, 57], [4.26, 56], [4.32, 58], [4.38, 57], [4.44, 59], [4.5, 58], [4.56, 57], [4.62, 59], [4.68, 58], [4.74, 60], [4.8, 58], [4.86, 59], [4.92, 61], [4.98, 59], [5.04, 60], [5.1, 58], [5.16, 59], [5.22, 57], [5.28, 58], [5.34, 57], [5.4, 59], [5.46, 57], [5.52, 58], [5.58, 56], [5.64, 58], [5.7, 57], [5.76, 56], [5.82, 57], [5.88, 56], [5.94, 55], [6.0, 57], [6.06, 56], [6.12, 58], [6.18, 57], [6.24, 58], [6.3, 57], [6.36, 59], [6.42, 58], [6.48, 60], [6.54, 59], [6.6, 60], [6.66, 59], [6.72, 61], [6.78, 60], [6.84, 61], [6.9, 61], [6.96, 62], [7.02, 61], [7.08, 62], [7.14, 61], [7.2, 63], [7.26, 62], [7.32, 63], [7.38, 62], [7.44, 63], [7.5, 62], [7.56, 63], [7.62, 62], [7.68, 64], [7.74, 63], [7.8, 64], [7.86, 63], [7.92, 65], [7.98, 64], [8.04, 66], [8.1, 64], [8.16, 66], [8.22, 65], [8.28, 67], [8.34, 65], [8.4, 68], [8.46, 66], [8.52, 67], [8.58, 65], [8.64, 68], [8.7, 66], [8.76, 69], [8.82, 67], [8.88, 69], [8.94, 68], [9.0, 70], [9.06, 68], [9.12, 70], [9.18, 69], [9.24, 71], [9.3, 69], [9.36, 71], [9.42, 70], [9.48, 72], [9.54, 70], [9.6, 72], [9.66, 71], [9.72, 73], [9.76, 69], [9.8, 75], [9.84, 70], [9.88, 74], [9.92, 71], [9.98, 74], [10.04, 72], [10.1, 74], [10.16, 72], [10.22, 73], [10.28, 72], [10.34, 74], [10.4, 73], [10.46, 75], [10.52, 73], [10.58, 75], [10.64, 73], [10.7, 76], [10.76, 73], [10.82, 77], [10.88, 74], [10.94, 78], [11.0, 75], [11.06, 77], [11.12, 74], [11.18, 78], [11.24, 75], [11.3, 77], [11.36, 76], [11.4, 78],
];
const d1: P[] = [
  [1.96, 17], [2.0, 19], [2.04, 18], [2.08, 20], [2.12, 17], [2.16, 19], [2.2, 20], [2.24, 19], [2.28, 21], [2.32, 20], [2.36, 22], [2.4, 21], [2.44, 22], [2.48, 21], [2.52, 22], [2.56, 20], [2.6, 21], [2.64, 19], [2.68, 18], [2.72, 19], [2.76, 16], [2.8, 17], [2.84, 15], [2.88, 16], [2.92, 14], [2.96, 13], [3.0, 14], [3.06, 12], [3.12, 11], [3.18, 12], [3.24, 10], [3.3, 11], [3.36, 9], [3.42, 10], [3.48, 9], [3.54, 11], [3.6, 9], [3.66, 10], [3.72, 8], [3.78, 10], [3.84, 9], [3.9, 8], [3.96, 10], [4.02, 9], [4.08, 11], [4.14, 9], [4.2, 10], [4.26, 8], [4.32, 11], [4.38, 10], [4.44, 9], [4.5, 11], [4.56, 10], [4.62, 12], [4.68, 10], [4.74, 11], [4.8, 13], [4.86, 11], [4.92, 12], [4.98, 13], [5.04, 12], [5.1, 14], [5.16, 12], [5.22, 13], [5.28, 11], [5.34, 12], [5.4, 14], [5.46, 12], [5.52, 11], [5.58, 13], [5.64, 11], [5.7, 10], [5.76, 12], [5.82, 11], [5.88, 13], [5.94, 12], [6.0, 11], [6.06, 13], [6.12, 12], [6.18, 11], [6.24, 13], [6.3, 12], [6.36, 14], [6.42, 13], [6.48, 15], [6.54, 14], [6.6, 15], [6.66, 14], [6.72, 16], [6.78, 15], [6.84, 17], [6.9, 16], [6.96, 17], [7.02, 16], [7.08, 18], [7.14, 17], [7.2, 16], [7.26, 18], [7.32, 17], [7.38, 19], [7.44, 18], [7.5, 17], [7.56, 19], [7.62, 18], [7.68, 20], [7.74, 19], [7.8, 18], [7.86, 20], [7.92, 22], [7.98, 20], [8.04, 21], [8.1, 23], [8.16, 21], [8.22, 22], [8.28, 24], [8.34, 22], [8.4, 23], [8.46, 25], [8.52, 23], [8.58, 24], [8.64, 26], [8.7, 24], [8.76, 23], [8.82, 25], [8.88, 27], [8.94, 25], [9.0, 24], [9.06, 26], [9.12, 28], [9.18, 26], [9.24, 25], [9.3, 27], [9.36, 26], [9.42, 28], [9.48, 27], [9.54, 26], [9.6, 28], [9.66, 27], [9.72, 29], [9.78, 28], [9.84, 27], [9.9, 29], [9.96, 28], [10.02, 30], [10.08, 29], [10.14, 28], [10.2, 30], [10.26, 29], [10.32, 31], [10.38, 30], [10.44, 29], [10.5, 31], [10.56, 30], [10.62, 32], [10.68, 31], [10.74, 30], [10.8, 32], [10.86, 31], [10.92, 33], [10.98, 31], [11.04, 33], [11.1, 32], [11.16, 31], [11.22, 33], [11.28, 32], [11.34, 35], [11.38, 34], null,
  [11.96, 36], [11.98, 31], [12.0, 28],
];

// Broken vertical reference line at the low-angle edge: [from, to] in intensity units
const aRefSegs: [number, number][] = [[289, 190], [165, 126], [119, 114], [98, 76], [53, 0]];
const bRefSegs: [number, number][] = [[287, 0]];
const cRefSegs: [number, number][] = [[290, 190], [158, 138], [110, 80], [40, 10]];
const dRefSegs: [number, number][] = [[287, 191], [179, 134], [121, 91], [74, 29], [18, 0]];

interface Series { data: P[]; color: string; width: number }
interface Label { text: string; x: number; y: number }
interface BoxLabel { text: string; x0: number; x1: number; y0: number; y1: number }
interface LegendRow { text: string; color: string; dx: number }
interface PanelCfg {
  id: string; left: number; right: number; top: number; bottom: number;
  tickY: number; titleY: number; xTitle: string;
  yTitle: { dx: number; dy: number };
  refX: number; refSegs: [number, number][]; hook?: [number, number, number];
  series: Series[]; labels: Label[]; boxes: BoxLabel[];
  legend: { segX0: number; segX1: number; textX: number; ys: number[]; rows: LegendRow[] };
  tag: { dx: number; dy: number; w: number; h: number };
  b104: [number, number];
}

const PANELS: PanelCfg[] = [
  {
    id: "A", left: 12, right: 637, top: 14, bottom: 303, tickY: 327, titleY: 353, xTitle: "2Theta (°)",
    yTitle: { dx: 17, dy: 71 },
    refX: 1.6, refSegs: aRefSegs,
    series: [
      { data: aClay, color: "#a9a9a9", width: LW_CLAY },
      { data: a220, color: "#1e1e1e", width: LW },
      { data: a200, color: "#141414", width: LW },
      { data: a180, color: "#4d4d4d", width: LW },
    ],
    labels: [
      { text: "(clay)", x: 11.23, y: 199 }, { text: "(220°C)", x: 10.86, y: 157 },
      { text: "(200°C)", x: 10.91, y: 95 }, { text: "(180°C)", x: 10.91, y: 18 },
      { text: "(c)", x: 1.6, y: 175 }, { text: "(b)", x: 1.53, y: 109 }, { text: "(a)", x: 1.53, y: 60 },
    ],
    boxes: [],
    legend: {
      segX0: 303, segX1: 328, textX: 329, ys: [12, 32, 52, 73],
      rows: [
        { text: "B104 (clay)", color: "#a9a9a9", dx: 0 },
        { text: "PLA- 3% B104 (180°C)  (a)", color: "#555", dx: 0 },
        { text: "PLA- 3% B104 (200°C)  (b)", color: "#111", dx: 0 },
        { text: "PLA- 3% B104 (220°C)  (c)", color: "#333", dx: 0 },
      ],
    },
    tag: { dx: 585, dy: 4, w: 37, h: 38 },
    b104: [1.93, 271],
  },
  {
    id: "B", left: 677, right: 1301, top: 15, bottom: 302, tickY: 323, titleY: 353, xTitle: "2Theta (°)",
    yTitle: { dx: 7, dy: 64 },
    refX: 1.56, refSegs: bRefSegs,
    series: [
      { data: bClay, color: "#7c7c7c", width: LW_CLAY },
      { data: b10, color: "#141414", width: LW },
      { data: b5, color: "#5a5a5a", width: LW },
      { data: b1, color: "#1e1e1e", width: LW },
    ],
    labels: [
      { text: "(clay)", x: 10.98, y: 195 },
      { text: "(c)", x: 1.62, y: 169 }, { text: "(b)", x: 1.62, y: 92 }, { text: "(a)", x: 1.62, y: 42 },
    ],
    boxes: [
      { text: "10 min", x0: 10.87, x1: 11.91, y0: 155, y1: 173 },
      { text: "5 min", x0: 10.87, x1: 11.7, y0: 97, y1: 115 },
      { text: "1 min", x0: 10.96, x1: 11.86, y0: 48, y1: 67 },
    ],
    legend: {
      segX0: 326, segX1: 351, textX: 353, ys: [21, 45, 67],
      rows: [
        { text: "(a) PLA- 3% B104 (1min)", color: "#111", dx: 0 },
        { text: "(b) PLA- 3% B104 (5min)", color: "#777", dx: 0 },
        { text: "(c) PLA- 3% B104 (10min)", color: "#222", dx: 0 },
      ],
    },
    tag: { dx: 581, dy: 10, w: 38, h: 42 },
    b104: [1.71, 270],
  },
  {
    id: "C", left: 12, right: 637, top: 393, bottom: 683, tickY: 707, titleY: 730, xTitle: "2Theta (°)",
    yTitle: { dx: 16, dy: 74 },
    refX: 1.63, refSegs: cRefSegs,
    series: [
      { data: cClay, color: "#ababab", width: LW_CLAY },
      { data: c250, color: "#1e1e1e", width: LW },
      { data: c150, color: "#141414", width: LW },
      { data: c50, color: "#555555", width: LW },
    ],
    labels: [
      { text: "(clay)", x: 10.82, y: 187 },
      { text: "(c)", x: 1.53, y: 175 }, { text: "(b)", x: 1.53, y: 125 }, { text: "(a)", x: 1.53, y: 56 },
    ],
    boxes: [
      { text: "250 rpm", x0: 10.52, x1: 11.77, y0: 137, y1: 166 },
      { text: "150 rpm", x0: 10.52, x1: 11.81, y0: 81, y1: 112 },
      { text: "50 rpm", x0: 10.61, x1: 11.72, y0: 25, y1: 53 },
    ],
    legend: {
      segX0: 295, segX1: 315, textX: 319, ys: [22, 47, 71],
      rows: [
        { text: "(a) PLA- 3% B104  (50 rpm)", color: "#888", dx: 4 },
        { text: "(b) PLA- 3% B104 (150 rpm)", color: "#333", dx: 0 },
        { text: "(c)  PLA- 3% B104 (250 rpm)", color: "#111", dx: 0 },
      ],
    },
    tag: { dx: 581, dy: 10, w: 34, h: 41 },
    b104: [1.79, 271],
  },
  {
    id: "D", left: 677, right: 1301, top: 394, bottom: 681, tickY: 703, titleY: 730, xTitle: "2 Theta (°)",
    yTitle: { dx: 15, dy: 67 },
    refX: 1.65, refSegs: dRefSegs, hook: [1.65, 1.86, 180],
    series: [
      { data: dClay, color: "#a9a9a9", width: LW_CLAY },
      { data: d10, color: "#141414", width: LW },
      { data: d5, color: "#1a1a1a", width: LW },
      { data: d3pct, color: "#555555", width: LW },
      { data: d1, color: "#4d4d4d", width: LW },
    ],
    labels: [
      { text: "(clay)", x: 11.12, y: 199 }, { text: "10%", x: 11.42, y: 166 },
      { text: "5%", x: 11.52, y: 122 }, { text: "3%", x: 11.52, y: 83 }, { text: "1%", x: 11.49, y: 33 },
      { text: "(d)", x: 1.56, y: 193 }, { text: "(c)", x: 1.56, y: 127 },
      { text: "(b)", x: 1.56, y: 82 }, { text: "(a)", x: 1.56, y: 23 },
    ],
    boxes: [],
    legend: {
      segX0: 290, segX1: 313, textX: 315, ys: [14, 33, 52, 70],
      rows: [
        { text: "PLA- 1% B104 (a)", color: "#777", dx: 0 },
        { text: "PLA- 3% B104 (b)", color: "#666", dx: 6 },
        { text: "PLA- 5% B104 (c)", color: "#111", dx: 0 },
        { text: "PLA- 10% B104 (d)", color: "#444", dx: 6 },
      ],
    },
    tag: { dx: 582, dy: 7, w: 37, h: 42 },
    b104: [1.93, 268],
  },
];

function T(props: {
  x: number; y: number; size: number; bold?: boolean; fill?: string;
  anchor?: "start" | "middle" | "end"; family?: string; children: React.ReactNode;
}) {
  const { x, y, size, bold = true, fill = "#1a1a1a", anchor = "start", family = FONT, children } = props;
  return (
    <text
      transform={`translate(${x},${y}) scale(${SX},1)`}
      fontSize={size}
      fontWeight={bold ? 700 : 400}
      fill={fill}
      textAnchor={anchor}
      dominantBaseline="central"
      fontFamily={family}
    >
      {children}
    </text>
  );
}

function Panel({ p }: { p: PanelCfg }) {
  const x = d3.scaleLinear().domain([1, 12]).range([p.left, p.right]);
  const y = d3.scaleLinear().domain([0, p.bottom - p.top]).range([p.bottom, p.top]);
  const line = d3
    .line<P>()
    .defined((d) => d !== null)
    .x((d) => x((d as [number, number])[0]))
    .y((d) => y((d as [number, number])[1]));
  const clipId = `plot-clip-${p.id}`;
  const W = p.right - p.left;
  const H = p.bottom - p.top;

  return (
    <g>
      <defs>
        <clipPath id={clipId}>
          <rect x={p.left} y={p.top} width={W} height={H} />
        </clipPath>
      </defs>
      <rect x={p.left} y={p.top} width={W} height={H} fill="#fff" stroke="#c6c6c6" strokeWidth={1.5} />

      {/* x axis ticks and labels */}
      {X_TICKS.map((t) => (
        <line key={`tk${t}`} x1={x(t)} x2={x(t)} y1={p.bottom} y2={p.bottom + 4} stroke="#c6c6c6" strokeWidth={1} />
      ))}
      {X_TICKS.map((t) => (
        <T key={`tl${t}`} x={x(t)} y={p.tickY} size={13} bold={false} fill="#444" anchor="middle">
          {t}
        </T>
      ))}
      <T x={(p.left + p.right) / 2} y={p.titleY} size={14} fill="#2a2a2a" anchor="middle">
        {p.xTitle}
      </T>

      {/* y axis title */}
      <text
        transform={`translate(${p.left + p.yTitle.dx},${p.top + p.yTitle.dy}) rotate(-90) scale(1,${SX})`}
        fontSize={14.5}
        fontWeight={700}
        fill="#333"
        textAnchor="middle"
        dominantBaseline="central"
        fontFamily={FONT}
      >
        Intensity (a.u.)
      </text>

      {/* low-angle reference line */}
      {p.refSegs.map(([a, b], i) => (
        <line key={`rs${i}`} x1={x(p.refX)} x2={x(p.refX)} y1={y(a)} y2={y(b)} stroke="#111" strokeWidth={2.2} />
      ))}
      {p.hook && (
        <line x1={x(p.hook[0])} x2={x(p.hook[1])} y1={y(p.hook[2])} y2={y(p.hook[2])} stroke="#111" strokeWidth={1.7} />
      )}

      {/* diffraction patterns */}
      <g clipPath={`url(#${clipId})`}>
        {p.series.map((s, i) => (
          <path
            key={`s${i}`}
            d={line(s.data) || ""}
            fill="none"
            stroke={s.color}
            strokeWidth={s.width}
            strokeLinejoin="round"
            strokeLinecap="round"
          />
        ))}
      </g>

      {/* curve labels */}
      <T x={x(p.b104[0])} y={y(p.b104[1])} size={14}>B104</T>
      {p.labels.map((l, i) => (
        <T key={`l${i}`} x={x(l.x)} y={y(l.y)} size={14}>
          {l.text}
        </T>
      ))}
      {p.boxes.map((b, i) => (
        <g key={`b${i}`}>
          <rect
            x={x(b.x0)}
            y={y(b.y1)}
            width={x(b.x1) - x(b.x0)}
            height={y(b.y0) - y(b.y1)}
            fill="#fff"
            stroke="#8c8c8c"
            strokeWidth={1.2}
          />
          <T x={(x(b.x0) + x(b.x1)) / 2} y={(y(b.y0) + y(b.y1)) / 2} size={14} anchor="middle">
            {b.text}
          </T>
        </g>
      ))}

      {/* legend */}
      {p.legend.rows.map((r, i) => (
        <g key={`lg${i}`}>
          <line
            x1={p.left + p.legend.segX0 + r.dx}
            x2={p.left + p.legend.segX1 + r.dx}
            y1={p.top + p.legend.ys[i]}
            y2={p.top + p.legend.ys[i]}
            stroke={r.color}
            strokeWidth={2}
          />
          <T x={p.left + p.legend.textX + r.dx} y={p.top + p.legend.ys[i]} size={12.5} fill="#1a1a1a">
            {r.text}
          </T>
        </g>
      ))}

      {/* panel tag */}
      <rect
        x={p.left + p.tag.dx}
        y={p.top + p.tag.dy}
        width={p.tag.w}
        height={p.tag.h}
        fill="#fff"
        stroke="#555"
        strokeWidth={1.2}
      />
      <text
        x={p.left + p.tag.dx + p.tag.w / 2}
        y={p.top + p.tag.dy + p.tag.h / 2 + 1}
        fontSize={25}
        fontWeight={700}
        fontFamily={SERIF}
        fill="#111"
        textAnchor="middle"
        dominantBaseline="central"
      >
        {p.id}
      </text>
    </g>
  );
}

export default function App() {
  return (
    <svg
      width={1309}
      height={739}
      viewBox="0 0 1309 739"
      style={{ position: "absolute", left: 0, top: 0, background: "#fff" }}
    >
      <rect x={0} y={0} width={1309} height={739} fill="#fff" />
      {PANELS.map((p) => (
        <Panel key={p.id} p={p} />
      ))}
    </svg>
  );
}
